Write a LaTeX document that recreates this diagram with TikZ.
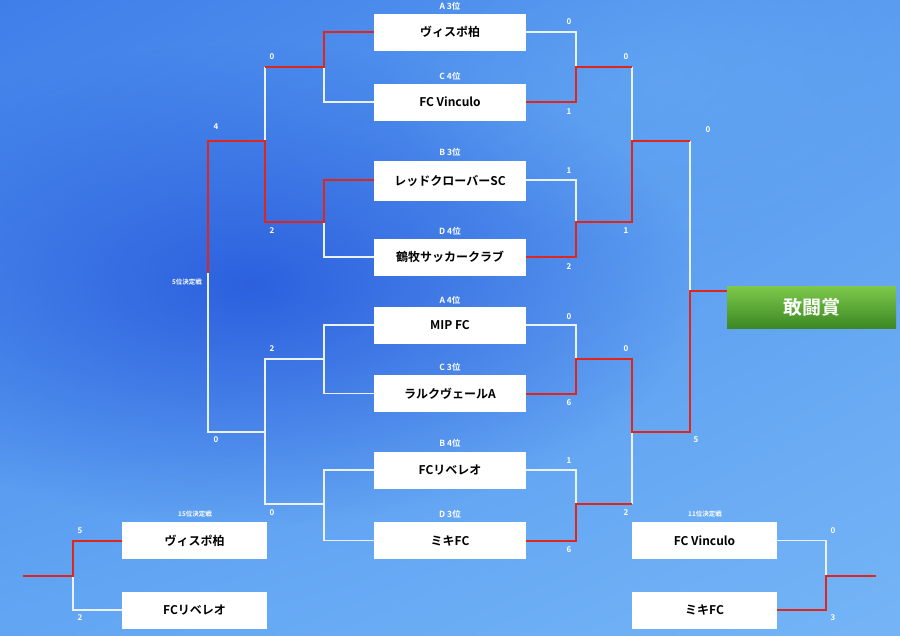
\documentclass[tikz,border=0pt]{standalone}
\usepackage{fontspec}
\setmainfont{Noto Sans CJK JP}[BoldFont={Noto Sans CJK JP Bold}]
\usetikzlibrary{fadings,shadings}
\tikzfading[name=softspot, inner color=transparent!0, outer color=transparent!100]
\definecolor{bgUL}{HTML}{3F7EE9}
\definecolor{bgUR}{HTML}{5A9CF0}
\definecolor{bgLL}{HTML}{62A6F3}
\definecolor{bgLR}{HTML}{74B4F6}
\definecolor{bgDark}{HTML}{2253DA}
\definecolor{bgLight}{HTML}{6AAEF4}
\definecolor{lineW}{HTML}{EAF2FF}
\definecolor{lineR}{HTML}{E0261B}
\definecolor{grTop}{HTML}{7DC94B}
\definecolor{grBot}{HTML}{3C8824}
\begin{document}
\begin{tikzpicture}[x=1pt,y=-1pt,
  wl/.style={draw=lineW, line width=1.8pt},
  rl/.style={draw=lineR, line width=2pt},
  team/.style={fill=white, minimum width=152pt, minimum height=37pt, inner sep=0pt,
    font=\bfseries\fontsize{12}{12}\selectfont, text=black},
  steam/.style={team, minimum width=145pt},
  score/.style={font=\bfseries\fontsize{8}{8}\selectfont, text=white, inner sep=0pt},
  grp/.style={font=\bfseries\fontsize{8.5}{8.5}\selectfont, text=white, inner sep=0pt},
  rnd/.style={font=\bfseries\fontsize{6.5}{6.5}\selectfont, text=white, inner sep=0pt},
  award/.style={top color=grTop, bottom color=grBot, minimum width=169pt, minimum height=42pt,
    inner sep=0pt, font=\bfseries\fontsize{19}{19}\selectfont, text=white}
]
% background
\useasboundingbox (0,0) rectangle (900,635);
\shade[upper left=bgUL, upper right=bgUR, lower left=bgLL, lower right=bgLR] (0,0) rectangle (900,635);
\fill[bgDark, path fading=softspot, fill opacity=0.8] (250,285) ellipse (450 and 240);
\fill[bgLight, path fading=softspot, fill opacity=0.5] (660,80) ellipse (280 and 170);

% team boxes
\node[team] (t1) at (450,32) {ヴィスポ柏};
\node[team] (t2) at (450,102) {FC Vinculo};
\node[team, minimum height=40pt] (t3) at (450,181) {レッドクローバーSC};
\node[team] (t4) at (450,257) {鶴牧サッカークラブ};
\node[team] (t5) at (450,325) {MIP FC};
\node[team] (t6) at (450,393.5) {ラルクヴェールA};
\node[team] (t7) at (450,470) {FCリベレオ};
\node[team] (t8) at (450,540.5) {ミキFC};
\node[steam] (u1) at (194.5,540.5) {ヴィスポ柏};
\node[steam] (u2) at (194.5,610) {FCリベレオ};
\node[steam] (v1) at (704.5,540.5) {FC Vinculo};
\node[steam] (v2) at (704.5,610) {ミキFC};
\node[award] (aw) at (811.5,307) {敢闘賞};

% joints
\coordinate (ra) at (576,67);  \coordinate (rb) at (576,222);
\coordinate (rc) at (576,359); \coordinate (rd) at (576,504);
\coordinate (rsa) at (632,67);  \coordinate (rsb) at (632,222);
\coordinate (rsc) at (632,359); \coordinate (rsd) at (632,504);
\coordinate (rm1) at (632,141); \coordinate (rm2) at (632,432);
\coordinate (fa) at (690,141); \coordinate (fb) at (690,432); \coordinate (fm) at (690,291);
\coordinate (la) at (324,67);  \coordinate (lb) at (324,222);
\coordinate (lc) at (324,359); \coordinate (ld) at (324,504);
\coordinate (lsa) at (265,67);  \coordinate (lsb) at (265,222);
\coordinate (lsc) at (265,359); \coordinate (lsd) at (265,504);
\coordinate (lm1) at (265,141); \coordinate (lm2) at (265,432);
\coordinate (ga) at (208,141); \coordinate (gb) at (208,432); \coordinate (gm) at (208,273);
\coordinate (pa) at (73,576); \coordinate (pe) at (23,576);
\coordinate (qa) at (826,576); \coordinate (qe) at (876,576);

% white connectors
\draw[wl] (t1.east) -| (ra);
\draw[wl] (rsa) -- (rm1);
\draw[wl] (t3.east |- 0,180) -| (rb);
\draw[wl] (fa) -- (fm);
\draw[wl] (t5.east) -| (rc);
\draw[wl] (t7.east) -| (rd);
\draw[wl] (rsd) -- (rm2);
\draw[wl] (t2.west) -| (la);
\draw[wl] (lsa) -- (lm1);
\draw[wl] (t4.west) -| (lb);
\draw[wl] (gm) -- (gb) -- (lm2);
\draw[wl] (t5.west) -| (lc) -- (lsc) -- (lsd) -- (ld) |- (t8.west);
\draw[wl] (t6.west) -| (lc);
\draw[wl] (t7.west) -| (ld);
\draw[wl] (u2.west) -| (pa);
\draw[wl] (v1.east) -| (qa);

% red connectors
\draw[rl] (t2.east) -| (ra) -- (rsa);
\draw[rl] (t4.east) -| (rb) -- (rsb) -- (rm1) -- (fa);
\draw[rl] (t6.east) -| (rc) -- (rsc) -- (rm2) -- (fb) -- (fm) -- (fm -| aw.west);
\draw[rl] (t8.east) -| (rd) -- (rsd);
\draw[rl] (t1.west) -| (la) -- (lsa);
\draw[rl] (t3.west |- 0,180) -| (lb) -- (lsb) -- (lm1) -- (ga) -- (gm);
\draw[rl] (u1.west) -| (pa) -- (pe);
\draw[rl] (v2.east) -| (qa) -- (qe);

% group labels
\node[grp] (g1) at (450,6) {A 3位};
\node[grp] (g2) at (450,76) {C 4位};
\node[grp] (g3) at (450,152) {B 3位};
\node[grp] (g4) at (450,231) {D 4位};
\node[grp] (g5) at (450,300) {A 4位};
\node[grp] (g6) at (450,367) {C 3位};
\node[grp] (g7) at (450,443) {B 4位};
\node[grp] (g8) at (450,514) {D 3位};
\node[rnd] (h1) at (187,282) {5位決定戦};
\node[rnd] (h2) at (195,514) {15位決定戦};
\node[rnd] (h3) at (705,514) {11位決定戦};

% scores right
\node[score] (s1) at (569,22) {0};
\node[score] (s2) at (569,112) {1};
\node[score] (s3) at (569,171) {1};
\node[score] (s4) at (569,267) {2};
\node[score] (s5) at (626,57) {0};
\node[score] (s6) at (626,231) {1};
\node[score] (s7) at (708,130) {0};
\node[score] (s8) at (696,440) {5};
\node[score] (s9) at (569,317) {0};
\node[score] (s10) at (569,403) {6};
\node[score] (s11) at (569,461) {1};
\node[score] (s12) at (569,550) {6};
\node[score] (s13) at (626,349) {0};
\node[score] (s14) at (626,513) {2};
% scores left
\node[score] (s15) at (272,57) {0};
\node[score] (s16) at (272,231) {2};
\node[score] (s17) at (216,127) {4};
\node[score] (s18) at (272,349) {2};
\node[score] (s19) at (272,513) {0};
\node[score] (s20) at (216,440) {0};
% scores bottom
\node[score] (s21) at (80,531) {5};
\node[score] (s22) at (80,618) {2};
\node[score] (s23) at (833,531) {0};
\node[score] (s24) at (833,618) {3};
\end{tikzpicture}
\end{document}
